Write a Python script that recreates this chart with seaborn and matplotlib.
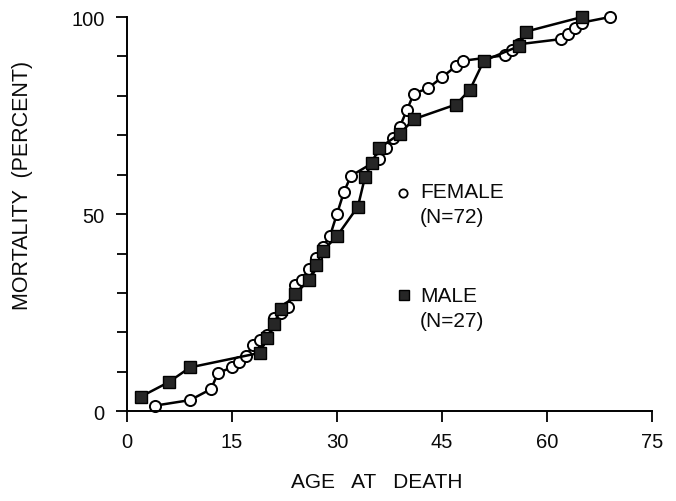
import matplotlib
matplotlib.use("Agg")
import matplotlib.pyplot as plt
import seaborn as sns
import pandas as pd
from matplotlib.ticker import MultipleLocator

# values (age at death, cumulative mortality %)
female_age = [4, 9, 12, 13, 15, 16, 17, 18, 19, 20, 21, 22, 23, 24, 25, 26, 27, 28,
              29, 30, 31, 32, 36, 37, 38, 39, 40, 41, 43, 45, 47, 48, 54, 55, 56,
              62, 63, 64, 65, 69]
female_pct = [1.4, 2.8, 5.6, 9.7, 11.1, 12.5, 13.9, 16.7, 18.1, 19.4, 23.6, 25.0,
              26.4, 31.9, 33.3, 36.1, 38.9, 41.7, 44.4, 50.0, 55.6, 59.7, 63.9,
              66.7, 69.4, 72.2, 76.4, 80.6, 81.9, 84.7, 87.5, 88.9, 90.3, 91.7,
              93.1, 94.4, 95.8, 97.2, 98.6, 100.0]
male_age = [2, 6, 9, 19, 20, 21, 22, 24, 26, 27, 28, 30, 33, 34, 35, 36, 39, 41,
            47, 49, 51, 56, 57, 65]
male_pct = [3.7, 7.4, 11.1, 14.8, 18.5, 22.2, 25.9, 29.6, 33.3, 37.0, 40.7, 44.4,
            51.9, 59.3, 63.0, 66.7, 70.4, 74.1, 77.8, 81.5, 88.9, 92.6, 96.3, 100.0]

x_ticks = [0, 15, 30, 45, 60, 75]
y_ticks = [0, 50, 100]

sns.set_style("ticks")
plt.rcParams['font.family'] = ['Liberation Sans', 'DejaVu Sans']
plt.rcParams['font.size'] = 14.5

fig = plt.figure(figsize=(6.76, 5.02), dpi=100)
ax = fig.add_axes([0.188, 0.179, 0.776, 0.785])

fem = pd.DataFrame({'age': female_age, 'pct': female_pct})
mal = pd.DataFrame({'age': male_age, 'pct': male_pct})

sns.lineplot(data=fem, x='age', y='pct', ax=ax, sort=False, color='black',
             linewidth=1.8, marker='o', markersize=8, markerfacecolor='white',
             markeredgecolor='black', markeredgewidth=1.4, clip_on=False)
sns.lineplot(data=mal, x='age', y='pct', ax=ax, sort=False, color='black',
             linewidth=1.8, marker='s', markersize=8, markerfacecolor='#262626',
             markeredgecolor='black', markeredgewidth=1.0, clip_on=False)

ax.set_xlim(0, 75)
ax.set_ylim(0, 100)
ax.set_xticks(x_ticks)
ax.set_yticks(y_ticks)
ax.yaxis.set_minor_locator(MultipleLocator(10))
ax.tick_params(axis='both', which='major', length=8, width=1.3, labelsize=14.5,
               color='black', labelcolor='#0a0a0a')
ax.tick_params(axis='x', pad=7)
ax.tick_params(axis='y', pad=8)
ax.tick_params(axis='y', which='minor', length=7, width=1.3, color='black')
for side in ['left', 'bottom']:
    ax.spines[side].set_linewidth(1.4)
    ax.spines[side].set_color('black')
sns.despine(ax=ax)
ax.set_xlabel('')
ax.set_ylabel('')

fig.text(0.558, 0.038, 'AGE   AT   DEATH', ha='center', va='center', fontsize=15,
         color='#0a0a0a')
fig.text(0.034, 0.631, 'MORTALITY  (PERCENT)', ha='center', va='center',
         rotation=90, fontsize=15.5, color='#0a0a0a')

# legend block
ax.plot([39.5], [55.3], marker='o', markersize=6, markerfacecolor='white',
        markeredgecolor='black', markeredgewidth=1.3, linestyle='none')
ax.text(41.9, 55.8, 'FEMALE', ha='left', va='center', fontsize=15, color='#0a0a0a')
ax.text(41.9, 49.5, '(N=72)', ha='left', va='center', fontsize=15, color='#0a0a0a')
ax.plot([39.6], [29.4], marker='s', markersize=6.5, markerfacecolor='#262626',
        markeredgecolor='black', markeredgewidth=1.0, linestyle='none')
ax.text(41.9, 29.4, 'MALE', ha='left', va='center', fontsize=15, color='#0a0a0a')
ax.text(41.9, 23.1, '(N=27)', ha='left', va='center', fontsize=15, color='#0a0a0a')

fig.savefig('out.png', dpi=100)
